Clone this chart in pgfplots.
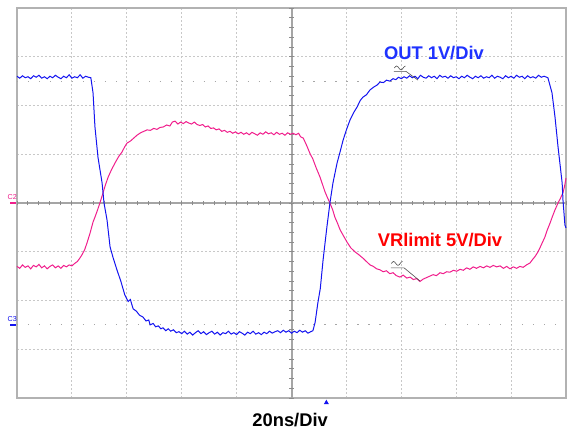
\documentclass[border=0pt]{standalone}
\usepackage{pgfplots}
\pgfplotsset{compat=1.18}
\usepackage{fontspec}
\setmainfont{Liberation Sans}

\definecolor{trpink}{RGB}{240,30,140}
\definecolor{trblue}{RGB}{20,20,240}
\definecolor{lblblue}{RGB}{30,50,255}
\definecolor{lblred}{RGB}{255,0,0}
\definecolor{gridgray}{RGB}{200,200,200}
\definecolor{centgray}{RGB}{165,165,165}

\begin{document}
\begin{tikzpicture}
% page = 568x430 px at 0.5bp per px
\useasboundingbox (-8.5bp,-16bp) rectangle (275.5bp,199bp);
\begin{axis}[
	at={(0,0)}, anchor=south west,
	width=274.5bp, height=195bp, scale only axis,
	xmin=0, xmax=200,
	ymin=-4, ymax=4,
	xtick={0,20,...,200},
	ytick={-4,-3,...,4},
	xticklabels={}, yticklabels={},
	major tick length=0pt,
	grid=major,
	major grid style={gridgray, line width=0.5bp, dash pattern=on 1bp off 1bp},
	axis line style={black!30, line width=1bp},
	clip=false,
	]
	% sparse dots at +-2.5 div
	\draw[black!35, line width=0.6bp, dash pattern=on 0.6bp off 4.89bp] (axis cs:0,2.5) -- (axis cs:200,2.5);
	\draw[black!35, line width=0.6bp, dash pattern=on 0.6bp off 4.89bp] (axis cs:0,-2.5) -- (axis cs:200,-2.5);
	% centre lines with fine ticks
	\draw[centgray, line width=1bp] (axis cs:0,0) -- (axis cs:200,0);
	\draw[centgray, line width=1bp] (axis cs:100,-4) -- (axis cs:100,4);
	\pgfplotsinvokeforeach{0,4,...,200}{
		\draw[black!45, line width=0.5bp] (axis cs:#1,-0.05) -- (axis cs:#1,0.05);
	}
	\pgfplotsinvokeforeach{-20,...,20}{
		\draw[black!45, line width=0.5bp] (axis cs:99.2,{#1*0.2}) -- (axis cs:100.8,{#1*0.2});
	}

	% VRlimit, 5V/div
	\addplot[trpink, line width=0.5bp] coordinates {
		(0,-1.30)(1,-1.34)(2,-1.27)(3,-1.32)(4,-1.29)(5,-1.35)(6,-1.28)(7,-1.31)(8,-1.26)(9,-1.33)
		(10,-1.29)(11,-1.35)(12,-1.30)(13,-1.27)(14,-1.33)(15,-1.29)(16,-1.34)(17,-1.28)(18,-1.31)(19,-1.27)
		(20,-1.29)(21,-1.24)(22.0,-1.20)(22.9,-1.13)(23.8,-1.05)(24.7,-0.95)(25.5,-0.82)(26.6,-0.62)(27.7,-0.39)(28.4,-0.29)
		(29.3,-0.15)(30.2,0.0)(31.3,0.2)(32.2,0.37)(33.2,0.53)(34.4,0.68)(35.7,0.82)(37.0,0.95)(38.3,1.05)(39.2,1.15)
		(40.1,1.23)(41.3,1.27)(42.5,1.33)(43.7,1.39)(45,1.44)(46.2,1.47)(47.4,1.50)(48.6,1.49)(49.8,1.53)(51,1.51)
		(52.1,1.55)(53.3,1.56)(54.5,1.60)(55.7,1.58)(56.6,1.66)(57.6,1.68)(58.6,1.62)(59.6,1.66)(60.6,1.63)(61.6,1.67)
		(62.6,1.64)(63.6,1.62)(64.6,1.66)(65.6,1.61)(66.6,1.59)(67.6,1.61)(68.6,1.56)(69.6,1.58)(70.6,1.53)(71.6,1.54)
		(72.6,1.50)(73.6,1.52)(74.6,1.47)(75.6,1.49)(76.6,1.45)(77.6,1.47)(78.6,1.43)(79.6,1.46)(80.6,1.42)(81.6,1.45)
		(82.6,1.41)(83.6,1.44)(84.6,1.40)(85.6,1.45)(86.6,1.42)(87.6,1.39)(88.6,1.44)(89.6,1.41)(90.6,1.46)(91.6,1.42)
		(92.6,1.44)(93.6,1.40)(94.6,1.45)(95.6,1.41)(96.6,1.43)(97.6,1.39)(98.6,1.44)(99.6,1.41)(100.6,1.43)(101.6,1.40)
		(102.6,1.43)(103.3,1.36)(104.3,1.33)(105.6,1.17)(106.7,1.02)(107.8,0.90)(109.0,0.72)(110.4,0.53)(111.3,0.38)(112.2,0.23)
		(113.1,0.11)(114.0,0.0)(115.0,-0.14)(115.8,-0.29)(116.8,-0.42)(117.7,-0.55)(119.0,-0.68)(120.2,-0.80)(121.6,-0.92)(123.1,-1.00)
		(124.5,-1.06)(126.0,-1.13)(127.3,-1.20)(128.6,-1.27)(129.8,-1.30)(131,-1.35)(132.2,-1.37)(133.4,-1.41)(134.6,-1.39)(135.8,-1.45)
		(137,-1.43)(138.2,-1.49)(139.5,-1.52)(140.7,-1.48)(142,-1.54)(143.2,-1.52)(144.4,-1.57)(145.6,-1.55)(146.8,-1.61)(148,-1.56)
		(149.2,-1.53)(150.4,-1.50)(151.6,-1.47)(152.8,-1.49)(154.1,-1.43)(155.3,-1.45)(156.5,-1.41)(157.7,-1.42)(159,-1.38)(160.2,-1.40)
		(161.4,-1.36)(162.6,-1.38)(163.8,-1.33)(165,-1.36)(166.2,-1.31)(167.4,-1.34)(168.7,-1.30)(169.9,-1.33)(171.1,-1.29)(172.3,-1.32)
		(173.5,-1.28)(174.7,-1.31)(176,-1.29)(177.2,-1.34)(178.4,-1.30)(179.6,-1.35)(180.8,-1.31)(182,-1.34)(183.2,-1.30)(184.4,-1.32)
		(185.6,-1.27)(186.9,-1.23)(187.8,-1.16)(188.7,-1.10)(189.6,-1.02)(190.5,-0.92)(191.4,-0.81)(192.3,-0.70)(193.2,-0.55)(194.2,-0.41)
		(195.1,-0.27)(196,-0.14)(197.1,0.0)(198.0,0.10)(198.9,0.21)(199.5,0.35)(200,0.51)
	};

	% OUT, 1V/div
	\addplot[trblue, line width=0.5bp] coordinates {
		(0,2.60)(1,2.56)(2,2.61)(3,2.57)(4,2.59)(5,2.55)(6,2.61)(7,2.58)(8,2.62)(9,2.56)
		(10,2.59)(11,2.55)(12,2.60)(13,2.57)(14,2.62)(15,2.58)(16,2.55)(17,2.60)(18,2.57)(19,2.63)
		(20,2.56)(21,2.59)(22,2.57)(23,2.63)(24,2.56)(25,2.60)(26,2.58)(26.9,2.57)
		(27.7,2.26)(28.4,1.56)(29.5,0.94)(31.0,0.41)(31.7,0.0)(32.8,-0.35)(33.9,-0.90)(35.0,-1.12)(36.4,-1.37)(37.8,-1.60)
		(39.3,-1.89)(40.5,-2.02)(41.3,-1.98)(42.3,-2.17)(43.5,-2.22)(44.6,-2.30)(45.9,-2.34)(47.0,-2.42)(48.0,-2.40)(48.5,-2.50)
		(49.6,-2.47)(50.5,-2.54)(51.5,-2.52)(52.4,-2.58)(53.2,-2.56)(54.2,-2.62)(55.1,-2.58)(56.0,-2.63)(57.0,-2.60)(58.0,-2.66)
		(59,-2.64)(60,-2.68)(61,-2.63)(62,-2.69)(63,-2.65)(64,-2.71)(65,-2.66)(66,-2.62)(67,-2.68)(68,-2.64)
		(69,-2.70)(70,-2.66)(71,-2.63)(72,-2.69)(73,-2.65)(74,-2.71)(75,-2.66)(76,-2.68)(77,-2.63)(78,-2.69)
		(79,-2.66)(80,-2.70)(81,-2.64)(82,-2.67)(83,-2.71)(84,-2.65)(85,-2.68)(86,-2.63)(87,-2.69)(88,-2.66)
		(89,-2.70)(90,-2.65)(91,-2.68)(92,-2.63)(93,-2.67)(94,-2.64)(95,-2.62)(96,-2.66)(97,-2.61)(98,-2.65)
		(99,-2.62)(100,-2.67)(101,-2.63)(102,-2.66)(103,-2.61)(104,-2.65)(105,-2.62)(106,-2.67)(107,-2.64)(107.8,-2.62)
		(108.6,-2.45)(109.6,-2.05)(110.5,-1.75)(111.5,-1.17)(112.9,-0.49)(114.0,0.0)(115.1,0.41)(116.6,0.82)(117.7,1.05)(118.8,1.29)
		(120.0,1.50)(121.3,1.70)(122.6,1.85)(123.9,1.97)(125.0,2.10)(126.0,2.17)(127.3,2.22)(128.6,2.32)(130.0,2.38)(131.2,2.42)
		(132.2,2.48)(133.5,2.47)(134.6,2.52)(135.8,2.50)(137,2.55)(138,2.53)(139,2.58)(140,2.55)(141,2.59)(142,2.56)
		(143,2.61)(144,2.57)(145,2.60)(146,2.55)(147,2.62)(148,2.58)(149,2.56)(150,2.61)(151,2.57)(152,2.60)
		(153,2.55)(154,2.62)(155,2.58)(156,2.60)(157,2.56)(158,2.61)(159,2.57)(160,2.59)(161,2.55)(162,2.60)
		(163,2.57)(164,2.62)(165,2.58)(166,2.55)(167,2.60)(168,2.57)(169,2.61)(170,2.56)(171,2.59)(172,2.57)
		(173,2.62)(174,2.56)(175,2.60)(176,2.58)(177,2.55)(178,2.61)(179,2.57)(180,2.60)(181,2.56)(182,2.62)
		(183,2.58)(184,2.60)(185,2.55)(186,2.61)(187,2.57)(188,2.59)(189,2.56)(190,2.62)(191,2.58)(192,2.60)
		(193.4,2.57)(194.9,2.26)(196.0,1.76)(197.1,1.15)(198.6,0.41)(198.9,0.06)(199.6,-0.45)(200,-0.51)
	};

	% channel labels
	\node[lblblue, font=\fontsize{9.2}{11}\selectfont\bfseries] at (axis cs:151.9,3.08) {OUT 1V/Div};
	\node[lblred, font=\fontsize{9.2}{11}\selectfont\bfseries] at (axis cs:154.1,-0.76) {VRlimit 5V/Div};
	\node[black, font=\fontsize{9.2}{11}\selectfont\bfseries] at (axis cs:99.5,-4.45) {20ns/Div};

	% little marker tags (drawn squiggle, underline, leader)
	\draw[black!70, line width=0.3bp] (axis cs:137.5,2.77) sin (axis cs:138.3,2.81) cos (axis cs:139.1,2.77) sin (axis cs:139.9,2.73) cos (axis cs:140.7,2.77) sin (axis cs:141.5,2.81);
	\draw[black!70, line width=0.3bp] (axis cs:137.3,2.70) -- (axis cs:141.7,2.70) -- (axis cs:146.1,2.52);
	\draw[black!70, line width=0.3bp] (axis cs:136.4,-1.24) sin (axis cs:137.2,-1.20) cos (axis cs:138.0,-1.24) sin (axis cs:138.8,-1.28) cos (axis cs:139.6,-1.24) sin (axis cs:140.4,-1.20);
	\draw[black!70, line width=0.3bp] (axis cs:136.2,-1.33) -- (axis cs:141.0,-1.33) -- (axis cs:146.8,-1.60);

	% channel ground markers at the left
	\node[trpink, inner sep=0pt, font=\fontsize{3.6}{4}\selectfont] at (axis cs:-1.7,0.12) {C2};
	\draw[trpink, line width=1.1bp] (axis cs:-2.5,0) -- (axis cs:-0.3,0);
	\node[trblue, inner sep=0pt, font=\fontsize{3.6}{4}\selectfont] at (axis cs:-1.7,-2.38) {C3};
	\draw[trblue, line width=1.1bp] (axis cs:-2.5,-2.5) -- (axis cs:-0.3,-2.5);

	% trigger position
	\fill[trblue] (axis cs:112.7,-4.035) -- (axis cs:113.6,-4.125) -- (axis cs:111.8,-4.125) -- cycle;
\end{axis}
\end{tikzpicture}
\end{document}
